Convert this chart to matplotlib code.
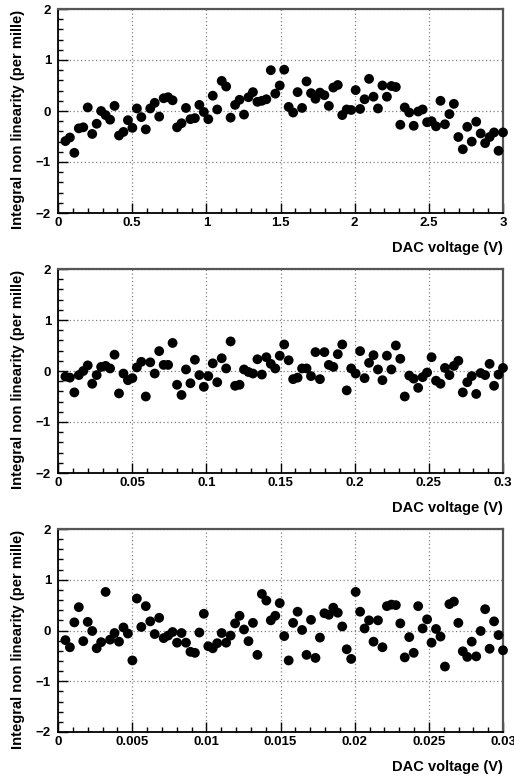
import numpy as np
import matplotlib
matplotlib.use("Agg")
import matplotlib.pyplot as plt
from matplotlib.ticker import MultipleLocator

# ---------------- data ----------------
x_max_1 = 3.0
x_max_2 = 0.3
x_max_3 = 0.03
n_points = 99

x1 = np.linspace(0.05, 3.0, n_points)
x2 = np.linspace(0.005, 0.3, n_points)
x3 = np.linspace(0.0005, 0.03, n_points)

y1 = [-0.59, -0.52, -0.82, -0.34, -0.32, 0.07, -0.45, -0.25, 0.0, -0.08,
      -0.17, 0.10, -0.48, -0.41, -0.18, -0.33, 0.05, -0.12, -0.36, 0.05,
      0.16, -0.11, 0.25, 0.27, 0.21, -0.32, -0.24, 0.06, -0.16, -0.14,
      0.12, -0.02, -0.16, 0.30, 0.03, 0.59, 0.48, -0.13, 0.12, 0.22,
      -0.07, 0.27, 0.37, 0.18, 0.20, 0.23, 0.80, 0.34, 0.50, 0.81,
      0.08, -0.03, 0.37, 0.06, 0.58, 0.35, 0.24, 0.36, 0.31, 0.10,
      0.46, 0.51, -0.08, 0.03, 0.02, 0.41, 0.04, 0.23, 0.63, 0.28,
      0.05, 0.50, 0.28, 0.49, 0.47, -0.27, 0.07, -0.03, -0.29, -0.01,
      0.03, -0.22, -0.20, -0.30, 0.20, -0.26, -0.06, 0.14, -0.51, -0.75,
      -0.31, -0.60, -0.21, -0.44, -0.63, -0.51, -0.42, -0.78, -0.42]

y2 = [-0.11, -0.13, -0.42, -0.08, 0.0, 0.11, -0.25, -0.08, 0.08, 0.10,
      0.05, 0.32, -0.44, -0.05, -0.18, -0.14, 0.07, 0.18, -0.50, 0.17,
      -0.05, 0.39, 0.12, 0.12, 0.55, -0.27, -0.47, 0.03, -0.24, 0.22,
      -0.08, -0.31, -0.10, 0.15, -0.22, 0.25, 0.05, 0.58, -0.29, -0.27,
      0.03, -0.02, -0.05, 0.23, -0.07, 0.27, 0.14, 0.05, 0.30, 0.52,
      0.21, -0.16, -0.13, 0.05, 0.05, -0.10, 0.37, -0.16, 0.37, 0.12,
      0.08, 0.33, 0.52, -0.38, 0.05, -0.05, 0.39, -0.14, 0.16, 0.31,
      0.03, -0.18, 0.30, 0.03, 0.50, 0.24, -0.50, -0.09, -0.15, -0.33,
      -0.12, -0.03, 0.27, -0.19, -0.25, 0.06, -0.08, 0.10, 0.20, -0.42,
      -0.22, -0.10, -0.45, -0.04, -0.08, 0.14, -0.29, -0.07, 0.06]

y3 = [-0.19, -0.33, 0.16, 0.46, -0.21, 0.17, -0.01, -0.35, -0.23, 0.76,
      -0.18, -0.05, -0.22, 0.06, -0.06, -0.59, 0.63, 0.07, 0.48, 0.18,
      -0.07, 0.25, -0.15, -0.10, -0.03, -0.24, -0.05, -0.24, -0.42, -0.44,
      -0.04, 0.33, -0.31, -0.35, -0.25, -0.05, -0.24, -0.10, 0.14, 0.29,
      0.02, -0.21, 0.15, -0.48, 0.72, 0.59, 0.20, 0.29, 0.54, -0.11,
      -0.59, 0.15, 0.37, 0.01, -0.48, 0.21, -0.54, -0.14, 0.34, 0.31,
      0.45, 0.35, 0.08, -0.37, -0.56, 0.76, 0.37, 0.04, 0.20, -0.22,
      0.20, -0.33, 0.48, 0.51, 0.50, 0.14, -0.53, -0.13, -0.44, 0.48,
      0.04, 0.22, -0.24, 0.03, -0.12, -0.71, 0.52, 0.57, 0.15, -0.41,
      -0.52, -0.22, -0.51, -0.01, 0.42, -0.36, 0.18, -0.09, -0.39]

xticks_1 = [0, 0.5, 1, 1.5, 2, 2.5, 3]
xticklabels_1 = ["0", "0.5", "1", "1.5", "2", "2.5", "3"]
xticks_2 = [0, 0.05, 0.1, 0.15, 0.2, 0.25, 0.3]
xticklabels_2 = ["0", "0.05", "0.1", "0.15", "0.2", "0.25", "0.3"]
xticks_3 = [0, 0.005, 0.01, 0.015, 0.02, 0.025, 0.03]
xticklabels_3 = ["0", "0.005", "0.01", "0.015", "0.02", "0.025", "0.03"]
yticks = [-2, -1, 0, 1, 2]
yticklabels = ["\u22122", "\u22121", "0", "1", "2"]

xlabel_text = "DAC voltage (V)"
ylabel_text = "Integral non linearity (per mille)"

# ---------------- layout ----------------
W, H = 514, 782
fig = plt.figure(figsize=(W / 100, H / 100), dpi=100)
fig.patch.set_facecolor("white")

font = "Liberation Sans"
panels = [
    (9, 213, x1, y1, x_max_1, xticks_1, xticklabels_1),
    (269, 473, x2, y2, x_max_2, xticks_2, xticklabels_2),
    (529, 732, x3, y3, x_max_3, xticks_3, xticklabels_3),
]
left, right = 58, 503

for top, bottom, xs, ys, xmax, xt, xtl in panels:
    ax = fig.add_axes([left / W, 1 - bottom / H, (right - left) / W, (bottom - top) / H])
    ax.scatter(xs, ys, s=50, color="black", edgecolors="none", zorder=3, clip_on=False)
    ax.set_xlim(0, xmax)
    ax.set_ylim(-2, 2)
    ax.set_xticks(xt)
    ax.set_xticklabels(xtl, fontfamily=font, fontweight="bold", fontsize=9.5)
    ax.set_yticks(yticks)
    ax.set_yticklabels(yticklabels, fontfamily=font, fontweight="bold", fontsize=9.5)
    ax.xaxis.set_minor_locator(MultipleLocator(xmax / 30))
    ax.yaxis.set_minor_locator(MultipleLocator(0.2))
    ax.tick_params(axis="both", which="major", direction="in", length=7, width=1.0,
                   color="black", top=False, right=False)
    ax.tick_params(axis="both", which="minor", direction="in", length=3.5, width=1.0,
                   color="black", top=False, right=False)
    ax.tick_params(axis="x", which="major", pad=3)
    ax.tick_params(axis="y", which="major", pad=5)
    ax.grid(True, which="major", linestyle=(0, (1, 2)), color="#808080", linewidth=0.9)
    ax.set_axisbelow(True)
    for s in ("left", "bottom"):
        ax.spines[s].set_color("black")
        ax.spines[s].set_linewidth(1.3)
    for s in ("top", "right"):
        ax.spines[s].set_color("#555555")
        ax.spines[s].set_linewidth(1.6)
    # axis titles (ROOT style: aligned to end of axis)
    fig.text(right / W, 1 - (bottom + 35) / H, xlabel_text, ha="right", va="center",
             fontfamily=font, fontweight="bold", fontsize=10.5)
    fig.text(18 / W, 1 - (top + 1) / H, ylabel_text, ha="center", va="top", rotation=90,
             fontfamily=font, fontweight="bold", fontsize=10.6)

fig.savefig("out.png", dpi=100, facecolor="white")
